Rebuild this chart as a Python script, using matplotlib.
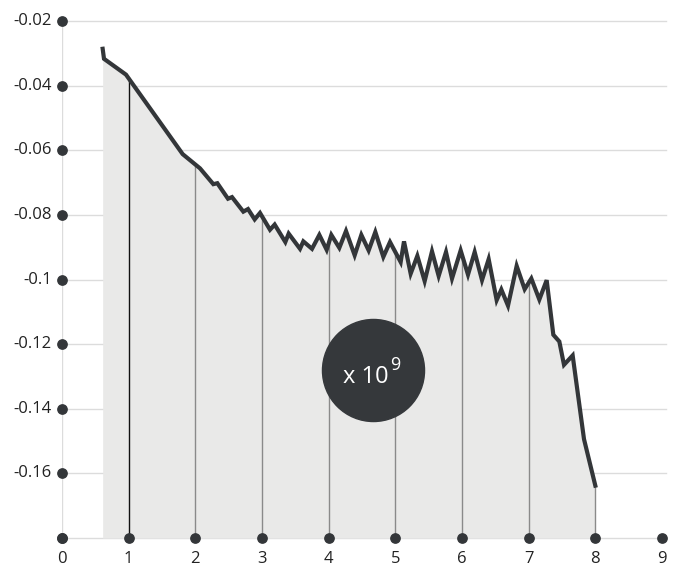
import numpy as np
import matplotlib.pyplot as plt

# values (y in units of 1e9)
x_vals = [0.61, 0.63, 0.96, 1.81, 2.07, 2.27, 2.33, 2.49, 2.55, 2.72, 2.79, 2.89, 2.97,
          3.12, 3.19, 3.35, 3.40, 3.57, 3.62, 3.75, 3.86, 3.97, 4.04, 4.16, 4.26,
          4.39, 4.49, 4.60, 4.70, 4.82, 4.92, 5.08, 5.13, 5.23, 5.33, 5.44, 5.55,
          5.65, 5.76, 5.85, 5.98, 6.09, 6.19, 6.30, 6.40, 6.52, 6.59, 6.69, 6.82,
          6.94, 7.04, 7.16, 7.27, 7.37, 7.46, 7.53, 7.66, 7.83, 8.00]
y_vals = [-0.0286, -0.0317, -0.0366, -0.0612, -0.0656, -0.0705, -0.0702, -0.0750, -0.0745,
          -0.0790, -0.0782, -0.0814, -0.0794, -0.0846, -0.0830, -0.0884, -0.0858,
          -0.0905, -0.0882, -0.0905, -0.0862, -0.0908, -0.0862, -0.0902, -0.0850,
          -0.0925, -0.0862, -0.0910, -0.0853, -0.0930, -0.0884, -0.0946, -0.0882,
          -0.0982, -0.0927, -0.1005, -0.0913, -0.0989, -0.0915, -0.0997, -0.0910,
          -0.0985, -0.0915, -0.1002, -0.0937, -0.1064, -0.1031, -0.1081, -0.0958,
          -0.1030, -0.0997, -0.1062, -0.1002, -0.1171, -0.1192, -0.1264, -0.1235,
          -0.1494, -0.1638]

x_ticks = [0, 1, 2, 3, 4, 5, 6, 7, 8, 9]
y_ticks = [-0.18, -0.16, -0.14, -0.12, -0.1, -0.08, -0.06, -0.04, -0.02]
y_labels = ["", "-0.16", "-0.14", "-0.12", "-0.1", "-0.08", "-0.06", "-0.04", "-0.02"]
drop_x = [1, 2, 3, 4, 5, 6, 7, 8]

dark = "#333639"
grid = "#dcdcdc"

plt.rcParams['font.family'] = ['Open Sans', 'DejaVu Sans']

fig = plt.figure(figsize=(6.77, 5.70), dpi=100)
ax = fig.add_axes([62 / 677, 1 - 538 / 570, (662 - 62) / 677, (538 - 21) / 570])
ax.set_xlim(0, 9)
ax.set_ylim(-0.18, -0.02)

# grid lines
for yv in y_ticks:
    ax.plot([0, 9.06], [yv, yv], color=grid, lw=1, zorder=0, clip_on=False)
ax.plot([0, 0], [-0.18, -0.02], color=grid, lw=1, zorder=0)

# area + line
ax.fill_between(x_vals, y_vals, -0.18, color="#e9e9e8", lw=0, zorder=1)
for xv in drop_x:
    top = np.interp(xv, x_vals, y_vals)
    ax.plot([xv, xv], [-0.18, top], color="#111111" if xv == 1 else "#8a8a8a",
            lw=1, zorder=2)
ax.plot(x_vals, y_vals, color=dark, lw=3, zorder=3, solid_joinstyle='miter')

# axis dots
ax.scatter([0] * len(y_ticks), y_ticks, s=45, color=dark, zorder=5, clip_on=False)
ax.scatter(x_ticks, [-0.18] * len(x_ticks), s=45, color=dark, zorder=5, clip_on=False)

# labels
for yv, lab in zip(y_ticks, y_labels):
    ax.text(-0.15, yv, lab, ha='right', va='center', fontsize=12, color="#222222")
for xv in x_ticks:
    ax.text(xv, -0.1865, str(xv), ha='center', va='center', fontsize=12, color="#222222")

# scale badge
bx, by = 4.66, -0.128
ax.scatter([bx], [by], s=5400, color="#35383b", zorder=6)
ax.annotate("x 10", (bx, by), xytext=(-21.5, -9.5), textcoords='offset points',
            ha='left', va='baseline', fontsize=17, color="white", zorder=7)
ax.annotate("9", (bx, by), xytext=(12.5, 10), textcoords='offset points',
            ha='left', va='top', fontsize=13, color="white", zorder=7)

ax.axis('off')
fig.savefig("out.png", dpi=100)
